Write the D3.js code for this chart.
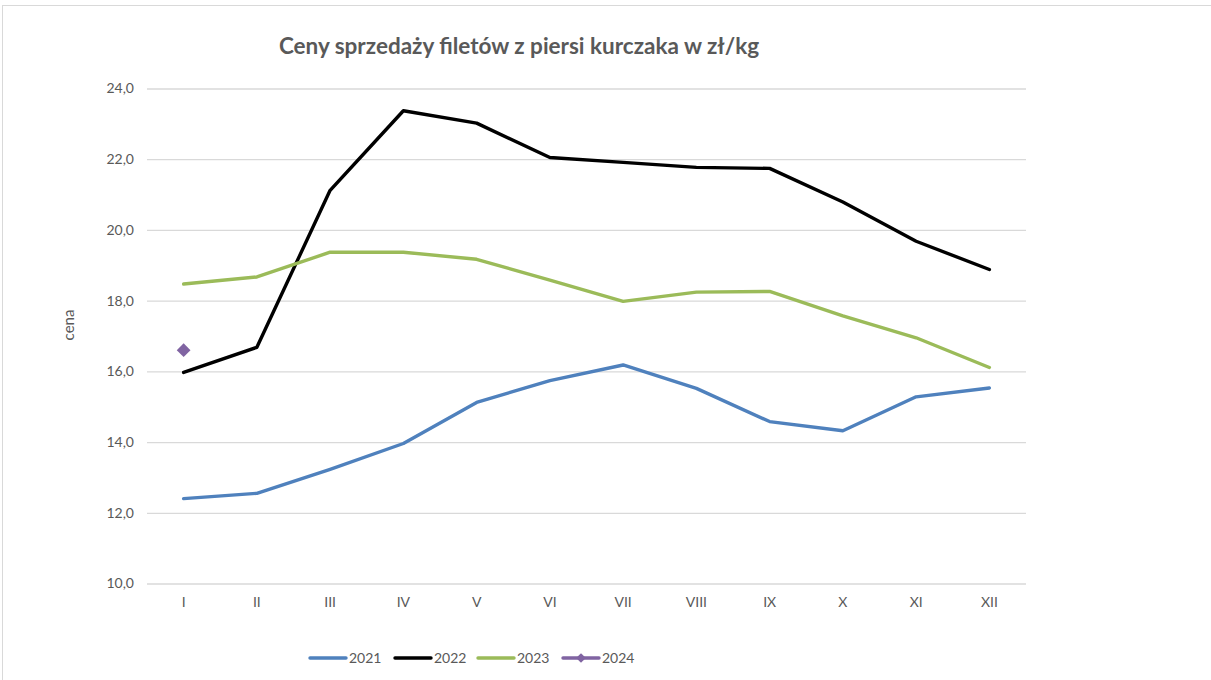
<!DOCTYPE html>
<html><head><meta charset="utf-8">
<script src="https://cdn.jsdelivr.net/npm/d3@7"></script>
<style>body{margin:0;background:#fff;}svg{display:block;font-family:Lato,"Open Sans",sans-serif;}</style>
</head><body>
<svg id="c" width="1211" height="680"></svg>
<script>
const months = ["I","II","III","IV","V","VI","VII","VIII","IX","X","XI","XII"];
const v2021 = [12.40,12.55,13.23,13.96,15.12,15.74,16.18,15.52,14.58,14.32,15.28,15.53];
const v2022 = [15.97,16.68,21.12,23.37,23.02,22.05,21.91,21.77,21.74,20.79,19.68,18.88];
const v2023 = [18.47,18.67,19.37,19.37,19.17,18.58,17.98,18.24,18.26,17.57,16.95,16.11];
const v2024 = [16.60];
const yTicks = [10,12,14,16,18,20,22,24];
const seriesNames = ["2021","2022","2023","2024"];
const colors = ["#4F81BD","#000000","#9BBB59","#8064A2"];

const svg = d3.select("#c");
// outer frame
svg.append("rect").attr("x",2.5).attr("y",5.5).attr("width",1230).attr("height",700)
  .attr("fill","none").attr("stroke","#d9d9d9").attr("stroke-width",1);

const x = d3.scaleBand().domain(months).range([147,1026]);
const y = d3.scaleLinear().domain([10,24]).range([583.5,88.5]);

const gy = svg.append("g").attr("transform","translate(147,0)")
  .call(d3.axisLeft(y).tickValues(yTicks).tickSize(-879).tickFormat(d=>d3.format(".1f")(d).replace(".",",")));
gy.select(".domain").remove();
gy.selectAll(".tick line").attr("stroke","#d9d9d9").attr("stroke-width",1.3);
gy.selectAll(".tick text").attr("x",-13).attr("fill","#595959").style("font-size","14px").style("font-family","Lato,sans-serif");

const gx = svg.append("g").attr("transform","translate(0,583.5)")
  .call(d3.axisBottom(x).tickSize(0).tickPadding(14));
gx.select(".domain").remove();
gx.selectAll(".tick text").attr("fill","#595959").style("font-size","14px").style("font-family","Lato,sans-serif");

svg.append("text").attr("transform","translate(74,325) rotate(-90)").attr("text-anchor","middle")
  .attr("fill","#595959").style("font-size","15px").text("cena");

svg.append("text").attr("x",519).attr("y",54).attr("text-anchor","middle")
  .attr("fill","#595959").style("font-size","22.5px").style("font-weight","bold").text("Ceny sprzedaży filetów z piersi kurczaka w zł/kg");

const line = d3.line().x((d,i)=>x(months[i])+x.bandwidth()/2).y(d=>y(d));
const data = [v2021,v2022,v2023];
data.forEach((s,k)=>{
  svg.append("path").datum(s).attr("d",line).attr("fill","none")
    .attr("stroke",colors[k]).attr("stroke-width",3.4).attr("stroke-linejoin","round").attr("stroke-linecap","round");
});
const diamond = d3.symbol().type(d3.symbolDiamond2).size(120);
svg.selectAll(".p24").data(v2024).enter().append("path")
  .attr("transform",(d,i)=>`translate(${x(months[i])+x.bandwidth()/2},${y(d)})`)
  .attr("d",diamond).attr("fill",colors[3]);

// legend
const legX = [310,395,478,563];
seriesNames.forEach((n,k)=>{
  const g = svg.append("g").attr("transform",`translate(${legX[k]},658)`);
  g.append("line").attr("x1",0).attr("x2",36).attr("stroke",colors[k]).attr("stroke-width",3.4).attr("stroke-linecap","round");
  if(k===3) g.append("path").attr("transform","translate(18,0)").attr("d",d3.symbol().type(d3.symbolDiamond2).size(60)).attr("fill",colors[k]);
  g.append("text").attr("x",39).attr("y",5).attr("fill","#595959").style("font-size","14px").text(n);
});
</script>
</body></html>
